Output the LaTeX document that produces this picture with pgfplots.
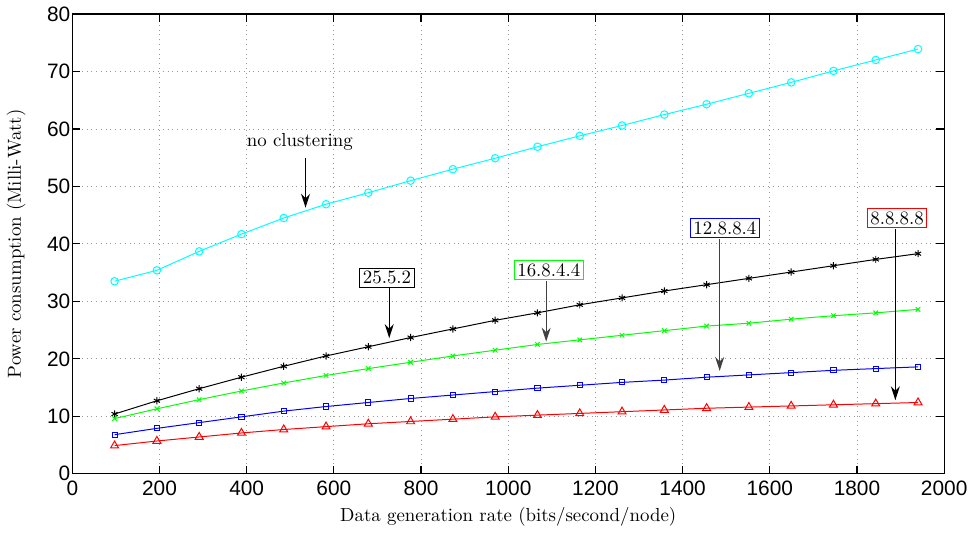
\documentclass[border=0pt]{standalone}
\usepackage{fontspec}
\setsansfont{Liberation Sans}
\usepackage{pgfplots}
\pgfplotsset{compat=1.18}
\usetikzlibrary{arrows.meta}
\definecolor{mcyan}{rgb}{0,1,1}
\definecolor{mgreen}{rgb}{0,1,0}
\definecolor{mblue}{rgb}{0,0,1}
\definecolor{mred}{rgb}{1,0,0}
\tikzset{annot/.style={fill=white, inner sep=1.5pt, line width=0.5pt, font=\fontsize{9.5}{11}\selectfont}}
\pgfplotstableread{
x cyan black green blue red
97 33.5 10.4 9.6 6.8 4.9
194 35.4 12.7 11.3 7.9 5.7
291 38.7 14.8 12.9 8.9 6.4
388 41.7 16.8 14.4 9.9 7.1
485 44.5 18.7 15.8 10.9 7.7
582 46.9 20.5 17.1 11.7 8.2
679 48.9 22.1 18.3 12.4 8.7
776 51.0 23.7 19.4 13.1 9.1
873 53.0 25.2 20.5 13.7 9.5
970 54.9 26.7 21.5 14.3 9.9
1067 56.9 28.0 22.5 14.9 10.2
1164 58.8 29.4 23.3 15.4 10.5
1261 60.6 30.6 24.1 15.9 10.8
1358 62.5 31.8 24.9 16.3 11.1
1455 64.3 32.9 25.7 16.8 11.4
1552 66.2 34.0 26.2 17.2 11.6
1649 68.1 35.1 26.9 17.6 11.8
1746 70.1 36.2 27.5 18.0 12.0
1843 72.0 37.3 28.0 18.3 12.2
1940 73.9 38.3 28.6 18.6 12.4
}\datatable
\begin{document}
\begin{tikzpicture}
\begin{axis}[
  scale only axis,
  width=439pt, height=231.5pt,
  xmin=0, xmax=2000, ymin=0, ymax=80,
  xtick={0,200,...,2000}, ytick={0,10,...,80},
  tick align=inside,
  xtick pos=both, ytick pos=both,
  grid=major,
  major grid style={dotted, gray!80, line width=0.4pt},
  axis line style={line width=0.6pt},
  tick style={black, line width=0.6pt},
  major tick length=4pt,
  ticklabel style={font=\sffamily\fontsize{10.5}{12}\selectfont},
  yticklabel style={xshift=2.5pt},
  /pgf/number format/assume math mode=true,
  /pgf/number format/1000 sep={},
  xlabel={Data generation rate (bits/second/node)},
  ylabel={Power consumption (Milli-Watt)},
  label style={font=\fontsize{9.5}{11}\selectfont},
  xlabel style={yshift=1pt},
  ylabel style={yshift=4pt},
  every axis plot/.append style={line width=0.5pt},
]
\addplot[mcyan, mark=o, mark size=1.9pt] table[x=x, y=cyan] {\datatable};
\addplot[black, mark=asterisk, mark size=1.8pt] table[x=x, y=black] {\datatable};
\addplot[mgreen, mark=x, mark size=1.6pt] table[x=x, y=green] {\datatable};
\addplot[mblue, mark=square, mark size=1.3pt] table[x=x, y=blue] {\datatable};
\addplot[mred, mark=triangle, mark size=2.3pt] table[x=x, y=red] {\datatable};

\node[font=\fontsize{9.5}{11}\selectfont] at (axis cs:522,57.8) {no clustering};
\draw[-{Stealth[length=7pt,width=4.5pt]}, line width=0.6pt] (axis cs:535,54.9) -- (axis cs:535,46.3);

\node[annot, draw=black] at (axis cs:722,34.1) {25.5.2};
\draw[-{Stealth[length=7pt,width=4.5pt]}, line width=0.6pt] (axis cs:727,32.3) -- (axis cs:727,23.6);

\node[annot, draw=mgreen] at (axis cs:1093,35.4) {16.8.4.4};
\draw[-{Stealth[length=7pt,width=4.5pt]}, line width=0.6pt, black!75] (axis cs:1087,33.5) -- (axis cs:1087,23.0);

\node[annot, draw=mblue] at (axis cs:1497,42.7) {12.8.8.4};
\draw[-{Stealth[length=7pt,width=4.5pt]}, line width=0.6pt, black!75] (axis cs:1485,40.8) -- (axis cs:1485,17.9);

\node[annot, draw=mred] at (axis cs:1892,44.5) {8.8.8.8};
\draw[-{Stealth[length=7pt,width=4.5pt]}, line width=0.6pt] (axis cs:1888,42.6) -- (axis cs:1888,12.8);
\end{axis}
\end{tikzpicture}
\end{document}
